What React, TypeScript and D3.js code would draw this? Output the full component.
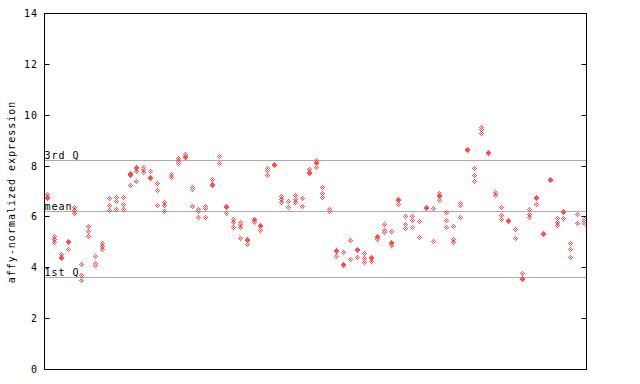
import React from 'react';
import * as d3 from 'd3';

const groupSizes: number[] = [10, 10, 10, 10, 10, 10, 10, 9];

const samples: number[][] = [
  [6.87, 6.71, 6.75], [5.25, 5.1, 4.98], [4.52, 4.38, 4.42], [5.05, 4.98, 4.73], [6.38, 6.25, 6.12],
  [4.12, 3.7, 3.5], [5.62, 5.42, 5.22], [4.43, 4.16, 4.08], [4.95, 4.84, 4.73], [6.72, 6.45, 6.25],
  [6.77, 6.62, 6.28], [6.76, 6.49, 6.31], [7.7, 7.62, 7.66, 7.24], [7.94, 7.9, 7.8, 7.38], [7.95, 7.85, 7.75],
  [7.78, 7.55, 7.51], [7.3, 7.03, 6.43], [6.56, 6.44, 6.23], [7.67, 7.55], [8.29, 8.19, 8.09],
  [8.45, 8.37, 8.33], [7.17, 7.07, 6.41], [6.3, 6.21, 5.97], [6.42, 6.32, 5.97], [7.46, 7.27, 7.23],
  [8.36, 8.12], [6.4, 6.36, 6.12], [5.91, 5.79, 5.6], [5.8, 5.7, 5.57, 5.14], [5.1, 5.06, 4.92],
  [5.88, 5.84, 5.77], [5.66, 5.62, 5.47], [7.92, 7.82, 7.63], [8.06, 8.02], [6.81, 6.69, 6.58],
  [6.61, 6.36], [6.84, 6.69, 6.56], [6.71, 6.41], [7.85, 7.76, 7.72], [8.22, 8.15, 8.11, 7.96],
  [7.16, 6.91, 6.75], [6.28, 6.22], [4.69, 4.65, 4.45], [4.59, 4.12, 4.08], [5.07, 4.34],
  [4.73, 4.69, 4.39], [4.55, 4.35, 4.21], [4.41, 4.37, 4.26], [5.22, 5.18, 5.1], [5.7, 5.47, 5.4],
  [5.43, 5.0, 4.96, 4.88], [6.67, 6.63, 6.48], [6.02, 5.69, 5.53], [6.02, 5.86, 5.57], [5.82, 5.18],
  [6.37, 6.33], [6.32, 5.04], [6.91, 6.84, 6.8, 6.64], [6.16, 5.86, 5.57], [5.62, 5.12, 5.0],
  [6.52, 6.43, 5.97], [8.67, 8.63], [7.9, 7.61, 7.41], [9.53, 9.43, 9.3], [8.54, 8.5],
  [6.97, 6.83], [6.36, 6.05, 5.91], [5.85, 5.81], [5.49, 5.14], [3.76, 3.57, 3.53],
  [6.28, 6.09, 5.99], [6.76, 6.72, 6.48], [5.36, 5.32], [7.48, 7.44], [5.95, 5.8, 5.66],
  [6.21, 6.17, 5.93], [4.94, 4.71, 4.41], [6.1, 5.73], [5.91, 5.82, 5.76],
];

const yTicks: number[] = [0, 2, 4, 6, 8, 10, 12, 14];
const refLabels: string[] = ['3rd Q', 'mean', '1st Q'];
const refValues: number[] = [8.21, 6.22, 3.62];
const yTitle = 'affy-normalized expression';

const W = 640;
const H = 384;
const LEFT = 44.5;
const RIGHT = 586.5;
const TOP = 13.5;
const BOTTOM = 369.5;
const RED = '#ff4d4d';
const GRID = '#aaaaaa';
const FONT = '"DejaVu Sans Mono", "Liberation Mono", monospace';

export default function App() {
  const n = samples.length;
  const xs = d3.scaleLinear().domain([0, n]).range([44, 588]);
  const ys = d3.scaleLinear().domain([0, 14]).range([BOTTOM, TOP]);

  const boundaries = d3.cumsum(groupSizes).slice(0, -1);

  const pixels: { x: number; y: number }[] = [];
  samples.forEach((vals, i) => {
    const cx = Math.floor(xs(i + 0.5));
    vals.forEach((v) => {
      const cy = Math.floor(ys(v));
      for (let dx = -2; dx <= 2; dx++) {
        for (let dy = -2; dy <= 2; dy++) {
          if (Math.abs(dx) + Math.abs(dy) <= 2 && (dx + dy) % 2 === 0) {
            pixels.push({ x: cx + dx, y: cy + dy });
          }
        }
      }
    });
  });
  const seen = new Set<string>();
  const uniq = pixels.filter((p) => {
    const k = p.x + ',' + p.y;
    if (seen.has(k)) return false;
    seen.add(k);
    return true;
  });

  return (
    <div style={{ position: 'absolute', left: 0, top: 0, width: W, height: H, background: '#fff' }}>
      <svg width={W} height={H} style={{ display: 'block' }}>
        <rect x={0} y={0} width={W} height={H} fill="#fff" />
        {boundaries.map((b) => {
          const x = Math.round(xs(b)) + 0.5;
          return <line key={'g' + b} x1={x} x2={x} y1={TOP} y2={BOTTOM} stroke={GRID} strokeWidth={1} />;
        })}
        {refValues.map((v, i) => {
          const y = Math.floor(ys(v)) + 0.5;
          return (
            <g key={'r' + i}>
              <line x1={LEFT} x2={RIGHT} y1={y} y2={y} stroke={GRID} strokeWidth={1} />
              <text x={44.5} y={y - 2} fontFamily={FONT} fontSize={10} letterSpacing={1} fill="#000">
                {refLabels[i]}
              </text>
            </g>
          );
        })}
        <g shapeRendering="crispEdges" fill={RED}>
          {uniq.map((p, i) => (
            <rect key={i} x={p.x} y={p.y} width={1} height={1} />
          ))}
        </g>
        <rect x={LEFT} y={TOP} width={RIGHT - LEFT} height={BOTTOM - TOP} fill="none" stroke="#000" strokeWidth={1} />
        {yTicks.map((t) => {
          const y = Math.floor(ys(t)) + 0.5;
          return (
            <g key={'t' + t}>
              <line x1={LEFT} x2={LEFT + 5} y1={y} y2={y} stroke="#000" strokeWidth={1} />
              <line x1={RIGHT - 5} x2={RIGHT} y1={y} y2={y} stroke="#000" strokeWidth={1} />
              <text x={38} y={y} textAnchor="end" dominantBaseline="central" fontFamily={FONT} fontSize={10} letterSpacing={1} fill="#000">
                {t}
              </text>
            </g>
          );
        })}
        <text
          transform={`translate(15, 192) rotate(-90)`}
          textAnchor="middle"
          fontFamily={FONT}
          fontSize={10}
          letterSpacing={1}
          fill="#000"
        >
          {yTitle}
        </text>
      </svg>
    </div>
  );
}
